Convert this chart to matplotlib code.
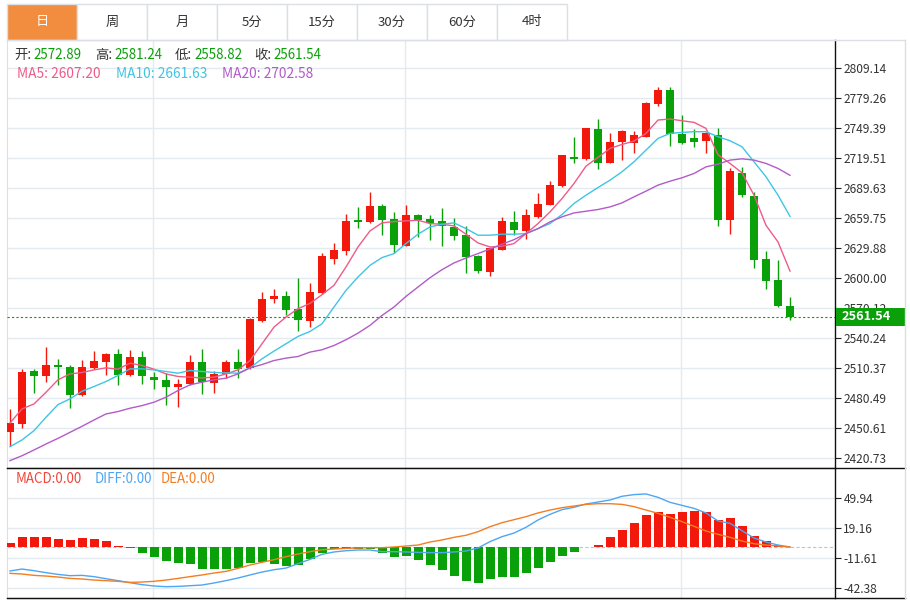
import numpy as np
import matplotlib
matplotlib.use("Agg")
from matplotlib import pyplot as plt
from matplotlib.patches import Rectangle
from matplotlib.lines import Line2D
from matplotlib.transforms import blended_transform_factory

plt.rcParams['font.family'] = ['Noto Sans CJK SC', 'DejaVu Sans']

tab_labels = ['日', '周', '月', '5分', '15分', '30分', '60分', '4时']

opens = [2446.63, 2454.94, 2508.16, 2502.50, 2513.81, 2511.48, 2483.55, 2510.82, 2516.47, 2524.79,
         2503.50, 2521.13, 2502.17, 2499.18, 2492.19, 2494.52, 2516.47, 2496.18, 2504.83, 2516.14,
         2510.82, 2557.38, 2579.00, 2582.00, 2569.36, 2557.38, 2585.65, 2619.58, 2627.56, 2657.83,
         2655.83, 2672.13, 2658.83, 2632.55, 2662.82, 2659.49, 2656.83, 2650.84, 2642.86, 2621.91,
         2606.61, 2628.56, 2655.83, 2646.85, 2661.49, 2673.13, 2691.75, 2720.36, 2718.36, 2748.30,
         2715.04, 2735.32, 2734.66, 2740.98, 2773.24, 2787.54, 2743.64, 2739.31, 2736.32, 2742.64,
         2658.49, 2705.06, 2681.78, 2619.58, 2598.63, 2572.89]
highs = [2469.91, 2509.49, 2509.82, 2531.44, 2519.80, 2514.14, 2518.14, 2527.12, 2525.79, 2529.11,
         2528.78, 2527.12, 2507.16, 2505.83, 2499.84, 2523.12, 2529.44, 2507.49, 2518.14, 2529.44,
         2560.71, 2586.32, 2589.64, 2586.98, 2600.29, 2595.30, 2625.57, 2634.88, 2664.48, 2670.80,
         2685.77, 2674.46, 2665.81, 2673.13, 2664.15, 2662.82, 2670.13, 2659.82, 2652.51, 2623.57,
         2630.88, 2661.15, 2666.81, 2668.80, 2685.43, 2696.74, 2722.80, 2740.65, 2749.80, 2758.61,
         2744.30, 2747.63, 2746.63, 2775.40, 2790.87, 2790.87, 2762.60, 2748.30, 2745.97, 2749.29,
         2709.38, 2710.38, 2686.10, 2627.23, 2618.58, 2581.24]
lows = [2433.32, 2450.62, 2485.54, 2497.18, 2493.85, 2470.57, 2482.50, 2509.49, 2503.50, 2493.85,
        2503.00, 2494.52, 2489.86, 2473.90, 2471.90, 2494.00, 2484.88, 2485.54, 2500.51, 2501.17,
        2510.00, 2556.38, 2575.68, 2563.04, 2547.40, 2551.40, 2584.66, 2614.26, 2622.90, 2650.18,
        2655.17, 2643.19, 2625.23, 2632.00, 2641.20, 2637.87, 2632.22, 2637.87, 2604.94, 2605.28,
        2602.62, 2628.00, 2643.52, 2639.53, 2659.82, 2673.00, 2691.20, 2714.37, 2717.90, 2709.05,
        2714.50, 2717.36, 2725.01, 2740.50, 2771.58, 2732.00, 2734.00, 2731.00, 2725.01, 2652.17,
        2643.86, 2681.11, 2610.60, 2589.64, 2571.50, 2558.82]
closes = [2455.94, 2507.16, 2503.17, 2513.81, 2511.48, 2483.55, 2511.82, 2517.80, 2524.12, 2503.50,
          2521.13, 2502.50, 2498.51, 2491.86, 2495.19, 2516.47, 2496.52, 2505.16, 2516.47, 2510.15,
          2559.38, 2579.00, 2582.33, 2568.69, 2558.71, 2586.65, 2622.24, 2628.56, 2657.16, 2656.16,
          2672.46, 2658.16, 2633.55, 2663.48, 2658.16, 2654.83, 2652.17, 2641.86, 2621.24, 2606.94,
          2630.55, 2657.16, 2647.85, 2662.82, 2673.79, 2692.75, 2722.35, 2719.03, 2749.29, 2715.04,
          2735.99, 2746.63, 2742.64, 2774.90, 2787.54, 2743.64, 2734.33, 2735.99, 2744.30, 2657.83,
          2706.72, 2683.44, 2618.58, 2597.29, 2572.02, 2561.54]

ma5 = [2455.9, 2469.9, 2474.9, 2486.5, 2498.9, 2504.8, 2506.2, 2508.8, 2510.8, 2509.5,
       2515.5, 2513.2, 2509.5, 2504.8, 2502.2, 2501.5, 2500.8, 2501.5, 2504.8, 2508.8,
       2518.1, 2534.8, 2551.4, 2561.4, 2569.7, 2575.0, 2583.7, 2593.0, 2611.3, 2631.2,
       2647.2, 2655.2, 2656.5, 2657.2, 2657.8, 2654.5, 2653.8, 2652.2, 2643.9, 2635.2,
       2631.2, 2631.9, 2634.6, 2644.5, 2654.5, 2666.1, 2679.4, 2694.4, 2711.7, 2720.4,
       2729.3, 2733.3, 2736.7, 2744.3, 2757.6, 2758.6, 2756.9, 2755.3, 2749.3, 2723.0,
       2714.4, 2705.1, 2682.8, 2652.8, 2636.2, 2607.20]
ma10 = [2432.3, 2439.0, 2448.3, 2461.6, 2474.2, 2479.9, 2487.5, 2492.2, 2497.2, 2503.2,
        2509.8, 2509.8, 2508.8, 2507.2, 2505.5, 2508.2, 2507.2, 2506.2, 2505.8, 2505.5,
        2510.8, 2519.8, 2527.5, 2534.8, 2542.1, 2547.1, 2554.7, 2571.4, 2588.0, 2601.3,
        2612.9, 2620.6, 2624.6, 2634.6, 2643.9, 2651.2, 2653.8, 2655.2, 2649.5, 2642.9,
        2642.9, 2643.9, 2643.9, 2644.5, 2649.5, 2654.5, 2663.5, 2674.5, 2682.8, 2690.4,
        2697.7, 2706.1, 2716.0, 2727.7, 2739.3, 2744.3, 2745.3, 2746.0, 2746.0, 2741.0,
        2737.0, 2731.0, 2716.0, 2701.1, 2682.8, 2661.63]
ma20 = [2418.4, 2423.3, 2429.0, 2435.0, 2440.6, 2446.6, 2452.6, 2458.9, 2464.9, 2467.3,
        2470.6, 2473.2, 2476.6, 2481.6, 2488.2, 2493.9, 2496.5, 2498.9, 2500.5, 2504.8,
        2510.8, 2514.1, 2518.1, 2520.5, 2522.1, 2526.5, 2528.8, 2533.1, 2538.8, 2545.4,
        2553.1, 2563.0, 2571.4, 2582.0, 2591.3, 2600.6, 2608.6, 2615.3, 2620.2, 2624.6,
        2629.2, 2633.9, 2638.5, 2644.5, 2649.5, 2656.2, 2661.2, 2665.1, 2666.8, 2668.5,
        2671.1, 2675.1, 2681.1, 2686.8, 2692.8, 2696.7, 2700.1, 2704.4, 2711.0, 2713.7,
        2717.7, 2719.0, 2717.7, 2714.4, 2709.4, 2702.58]

macd_hist = [4.1, 10.2, 10.2, 10.2, 8.5, 6.8, 9.2, 8.2, 6.1, 1.4,
             -0.7, -6.5, -10.6, -14.0, -16.4, -17.8, -22.2, -22.9, -22.6, -21.2,
             -16.1, -15.7, -17.8, -19.5, -18.1, -12.0, -6.2, -2.4, -1.4, -1.7,
             -2.0, -6.5, -9.9, -9.2, -13.7, -18.1, -23.6, -29.8, -35.2, -36.6,
             -33.2, -30.8, -30.8, -26.7, -21.6, -15.4, -9.2, -5.5, -0.3, 2.0,
             10.6, 17.8, 24.6, 32.8, 35.5, 33.8, 35.5, 36.9, 35.5, 27.3,
             30.1, 21.5, 10.9, 6.1, 2.0, 0.0]
diff = [-24.6, -22.6, -24.3, -26.3, -28.1, -29.4, -29.1, -30.4, -32.5, -34.5,
        -36.6, -38.6, -40.0, -40.7, -40.4, -39.7, -39.0, -36.9, -34.5, -31.8,
        -28.7, -25.7, -23.3, -21.6, -17.1, -12.7, -7.5, -5.1, -3.8, -3.1,
        -3.1, -4.8, -4.8, -5.1, -5.5, -5.8, -5.8, -5.1, -4.1, -1.0,
        5.5, 10.6, 14.3, 20.2, 27.7, 33.5, 38.3, 40.7, 44.1, 46.1,
        48.2, 52.0, 53.7, 54.4, 50.9, 45.8, 42.7, 39.6, 34.9, 26.7,
        24.3, 16.7, 9.2, 5.1, 2.0, 0.0]
dea = [-27.0, -27.7, -29.1, -29.8, -30.8, -32.2, -32.8, -33.9, -34.5, -35.2,
       -36.3, -35.9, -35.2, -33.9, -32.2, -30.4, -28.7, -26.7, -25.0, -21.9,
       -18.5, -15.7, -13.0, -9.9, -7.2, -4.8, -2.8, -2.1, -1.4, -1.0,
       -0.7, -0.7, 0.0, 1.0, 2.0, 5.1, 7.2, 9.9, 12.0, 15.7,
       20.8, 24.9, 28.0, 31.1, 34.9, 37.9, 40.3, 42.0, 43.7, 44.4,
       44.4, 43.7, 41.4, 37.9, 34.5, 30.4, 26.0, 21.2, 16.4, 13.0,
       9.9, 6.1, 3.4, 2.0, 1.0, 0.0]

price_ticks = [2420.73, 2450.61, 2480.49, 2510.37, 2540.24, 2570.12, 2600.00,
               2629.88, 2659.75, 2689.63, 2719.51, 2749.39, 2779.26, 2809.14]
macd_ticks = [49.94, 19.16, -11.61, -42.38]
month_starts = [11.9, 32.9, 55.9]

RED = '#f2180c'
GREEN = '#0aa00a'
GRID = '#e3eaf0'
BORDER = '#dcdfe3'

W, H = 910, 600


def fx(x):
    return x / W


def fy(y):
    return 1 - y / H


fig = plt.figure(figsize=(W / 100, H / 100), dpi=100)
ax = fig.add_axes([fx(7), fy(468), fx(835) - fx(7), (468 - 40) / H])
axm = fig.add_axes([fx(7), fy(598), fx(835) - fx(7), (598 - 468) / H])

o = np.array(opens)
c = np.array(closes)
idx = np.arange(len(c))
cols = np.where(c >= o, RED, GREEN)

# candles
ax.vlines(idx, lows, highs, colors=cols, lw=1.0, zorder=3)
body = np.maximum(np.abs(c - o), 0.9)
ax.bar(idx, body, bottom=np.minimum(o, c), width=0.72, color=cols, linewidth=0, zorder=4)

ax.plot(idx, ma5, color='#ef5b86', lw=1.0, zorder=5)
ax.plot(idx, ma10, color='#3fc5e3', lw=1.0, zorder=5)
ax.plot(idx, ma20, color='#b35bc9', lw=1.0, zorder=5)

ax.axhline(closes[-1], color=GREEN, lw=0.8, ls=(0, (2, 2)), zorder=6)

for a in (ax, axm):
    a.set_xlim(-0.25, 68.75)
    a.set_xticks(month_starts)
    a.tick_params(axis='x', length=0, labelbottom=False)
    a.grid(True, color=GRID, lw=1.0)
    a.set_axisbelow(True)
    a.yaxis.tick_right()
    a.tick_params(axis='y', length=4, width=0.8, color='#222', labelsize=8.6,
                  labelcolor='#333', pad=2)
    a.spines['left'].set_color(BORDER)
    a.spines['right'].set_color('#111')
    a.spines['right'].set_linewidth(1.0)

ax.set_ylim(2411.07, 2837.32)
ax.set_yticks(price_ticks)
ax.set_yticklabels([f'{t:.2f}' for t in price_ticks])
ax.spines['top'].set_color(BORDER)
ax.spines['bottom'].set_color('#111')

# MACD panel
axm.bar(idx, macd_hist, width=0.75, color=np.where(np.array(macd_hist) >= 0, RED, GREEN),
        linewidth=0, zorder=3)
axm.axhline(0, color='#8fd4f2', lw=0.8, ls=(0, (3, 2)), zorder=2)
axm.plot(idx, diff, color='#4ea6f2', lw=1.0, zorder=4)
axm.plot(idx, dea, color='#f47d22', lw=1.0, zorder=4)
axm.set_ylim(-52.3, 81.0)
axm.set_yticks(macd_ticks)
axm.set_yticklabels([f'{t:.2f}' for t in macd_ticks])
axm.spines['top'].set_color('#111')
axm.spines['bottom'].set_color('#111')

# last price tag (sits over the 2570.12 label, as on the original)
tr = blended_transform_factory(ax.transAxes, ax.transData)
ax.add_patch(Rectangle((1.001, closes[-1] - 9.0), 70 / 828, 18.0, transform=tr,
                       facecolor=GREEN, edgecolor='none', clip_on=False, zorder=10))
ax.text(1.0 + 7 / 828, closes[-1], f'{closes[-1]:.2f}', transform=tr, color='white',
        fontsize=9.2, va='center', ha='left', fontweight='bold', clip_on=False, zorder=11)

# frame lines outside the axes
for x0, y0, x1, y1, col in [(7, 40, 905, 40, BORDER), (7, 468, 905, 468, '#111'),
                            (7, 598, 905, 598, '#111'), (905, 40, 905, 598, BORDER)]:
    fig.add_artist(Line2D([fx(x0), fx(x1)], [fy(y0), fy(y1)], color=col, lw=1.0,
                          transform=fig.transFigure))

# period tabs
for k, lab in enumerate(tab_labels):
    x0 = 7 + 70 * k
    sel = k == 0
    fig.add_artist(Rectangle((fx(x0), fy(40)), 70 / W, 36 / H, transform=fig.transFigure,
                             facecolor='#f28c3e' if sel else 'white', edgecolor=BORDER, lw=1.0))
    fig.text(fx(x0 + 35), fy(22), lab, ha='center', va='center', fontsize=9.5,
             color='white' if sel else '#333')

# info rows
info_labels = ['开', '高', '低', '收']
info_values = [opens[-1], highs[-1], lows[-1], closes[-1]]
for lab, val, x in zip(info_labels, info_values, [14, 95, 175, 254]):
    fig.text(fx(x), fy(55), lab + ':', ha='left', va='center', fontsize=9.6, color='#333')
    fig.text(fx(x + 19), fy(55), f'{val:.2f}', ha='left', va='center', fontsize=9.6, color=GREEN)

for name, vals, col, x in [('MA5', ma5, '#ef5b86', 17), ('MA10', ma10, '#3fc5e3', 116),
                           ('MA20', ma20, '#b35bc9', 222)]:
    fig.text(fx(x), fy(74), f'{name}: {vals[-1]:.2f}', ha='left', va='center',
             fontsize=9.9, color=col)

for name, vals, col, x in [('MACD', macd_hist, '#f0463c', 16), ('DIFF', diff, '#4ea6f2', 95),
                           ('DEA', dea, '#f47d22', 161)]:
    fig.text(fx(x), fy(479), f'{name}:{vals[-1]:.2f}', ha='left', va='center',
             fontsize=9.6, color=col)

fig.savefig('out.png', dpi=100)
